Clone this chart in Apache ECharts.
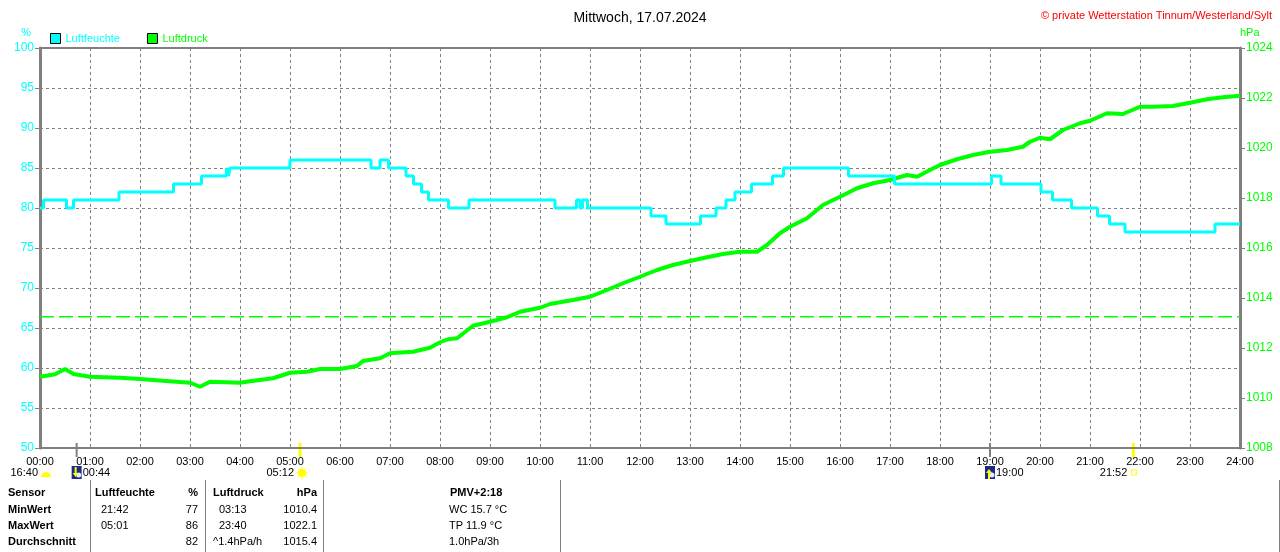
<!DOCTYPE html>
<html>
<head>
<meta charset="utf-8">
<script src="https://cdn.jsdelivr.net/npm/echarts@6/dist/echarts.min.js"></script>
<style>
	html, body { margin: 0; padding: 0; background: #fff; }
	#chart { width: 1280px; height: 552px; }
</style>
</head>
<body>
<div id="chart"></div>
<script>
// tick labels of the time axis (hours of the day)
const hourLabels = [];
for (let h = 0; h <= 24; h++) hourLabels.push((h < 10 ? '0' : '') + h + ':00');

// humidity change points [hour, %] (value holds until the next point)
const humidity = [
	[0, 80], [0.07, 81], [0.53, 80], [0.67, 81], [1.58, 82], [2.67, 83], [3.23, 84],
	[3.73, 85], [3.77, 84], [3.8, 85], [5.0, 86], [6.62, 85], [6.8, 86], [6.97, 85],
	[7.32, 84], [7.47, 83], [7.63, 82], [7.77, 81], [8.17, 80], [8.58, 81], [10.3, 80],
	[10.73, 81], [10.8, 80], [10.85, 81], [10.95, 80], [12.22, 79], [12.52, 78],
	[13.21, 79], [13.52, 80], [13.72, 81], [13.9, 82], [14.23, 83], [14.65, 84],
	[14.87, 85], [16.17, 84], [17.09, 83], [19.03, 84], [19.22, 83], [20.02, 82],
	[20.25, 81], [20.63, 80], [21.15, 79], [21.39, 78], [21.7, 77], [23.5, 78], [24, 78],
];

// air pressure [hour, hPa]
const pressure = [
	[0, 1010.85], [0.3, 1010.95], [0.5, 1011.16], [0.67, 1010.96], [1.0, 1010.85],
	[1.6, 1010.81], [2.0, 1010.76], [2.46, 1010.69], [3.0, 1010.61], [3.2, 1010.45],
	[3.4, 1010.65], [4.0, 1010.61], [4.2, 1010.67], [4.66, 1010.79], [5.0, 1011.01],
	[5.34, 1011.05], [5.6, 1011.16], [6.0, 1011.16], [6.34, 1011.28], [6.46, 1011.48],
	[6.8, 1011.59], [7.0, 1011.79], [7.46, 1011.85], [7.8, 1012.01], [8.0, 1012.23],
	[8.16, 1012.35], [8.34, 1012.39], [8.66, 1012.89], [9.0, 1013.05], [9.34, 1013.23],
	[9.6, 1013.45], [10.0, 1013.61], [10.2, 1013.76], [10.66, 1013.92], [11.0, 1014.05],
	[11.34, 1014.32], [11.66, 1014.59], [12.0, 1014.85], [12.34, 1015.12], [12.66, 1015.32],
	[13.0, 1015.48], [13.34, 1015.63], [13.66, 1015.76], [14.0, 1015.85], [14.34, 1015.85],
	[14.54, 1016.12], [14.8, 1016.59], [15.0, 1016.85], [15.34, 1017.19], [15.66, 1017.72],
	[16.0, 1018.05], [16.34, 1018.39], [16.66, 1018.59], [17.0, 1018.72], [17.34, 1018.92],
	[17.54, 1018.85], [17.8, 1019.12], [18.0, 1019.32], [18.34, 1019.55], [18.66, 1019.72],
	[19.0, 1019.85], [19.34, 1019.92], [19.66, 1020.05], [19.8, 1020.25], [20.0, 1020.41],
	[20.2, 1020.35], [20.46, 1020.72], [20.8, 1020.99], [21.0, 1021.09], [21.34, 1021.39],
	[21.66, 1021.36], [22.0, 1021.65], [22.26, 1021.65], [22.66, 1021.68], [23.0, 1021.81],
	[23.34, 1021.95], [23.66, 1022.03], [24.0, 1022.09],
];

// standard pressure reference line
const stdPressure = [[0, 1013.25], [24, 1013.25]];

// sun / moon events below the time axis
const astroTimes = [0.733, 5.2, 19.0, 21.867];
const astroLabels = ['00:44', '05:12', '19:00', '21:52'];
const astroKinds = ['moonset', 'sunrise', 'moonrise', 'sunset'];
const dayLength = '16:40';

// statistics table
const tableHeader = ['Sensor', 'Luftfeuchte', '%', 'Luftdruck', 'hPa', 'PMV+2:18'];
const rowNames = ['MinWert', 'MaxWert', 'Durchschnitt'];
const humTimes = ['21:42', '05:01', ''];
const humValues = ['77', '86', '82'];
const presTimes = ['03:13', '23:40', '^1.4hPa/h'];
const presValues = ['1010.4', '1022.1', '1015.4'];
const extraInfo = ['WC 15.7 °C', 'TP 11.9 °C', '1.0hPa/3h'];

const CYAN = '#00ffff';
const GREEN = '#00ff00';
const GRAY = '#808080';
const FONT = 'Liberation Sans, Arial, sans-serif';

let myChart = echarts.init(document.getElementById('chart'), null, { renderer: 'canvas' });

let option = {
	animation: false,
	textStyle: { fontFamily: FONT },
	title: [
		{
			text: 'Mittwoch, 17.07.2024',
			left: 'center',
			top: 6,
			textStyle: { fontSize: 14, fontWeight: 'normal', color: '#000', fontFamily: FONT },
		},
		{
			text: '© private Wetterstation Tinnum/Westerland/Sylt',
			right: 3,
			top: 5,
			textStyle: { fontSize: 11, fontWeight: 'normal', color: '#ff0000', fontFamily: FONT },
		},
	],
	legend: {
		left: 50,
		top: 33,
		padding: 0,
		icon: 'rect',
		itemWidth: 10,
		itemHeight: 10,
		itemGap: 27,
		itemStyle: { borderColor: '#000', borderWidth: 1 },
		textStyle: { fontSize: 11 },
		data: [
			{ name: 'Luftfeuchte', textStyle: { color: CYAN } },
			{ name: 'Luftdruck', textStyle: { color: GREEN } },
		],
	},
	grid: {
		left: 40,
		right: 40,
		top: 48,
		bottom: 104,
		show: true,
		borderColor: GRAY,
		borderWidth: 2,
	},
	xAxis: {
		type: 'value',
		min: 0,
		max: 24,
		interval: 1,
		axisLine: { show: true, lineStyle: { color: GRAY, width: 2 } },
		axisTick: { show: false },
		axisLabel: {
			color: '#000',
			fontSize: 11,
			margin: 8,
			formatter: (v) => hourLabels[v],
		},
		splitLine: { show: true, lineStyle: { color: GRAY, type: [3, 3], width: 1 } },
	},
	yAxis: [
		{
			type: 'value',
			min: 50,
			max: 100,
			interval: 5,
			position: 'left',
			name: '%',
			nameLocation: 'end',
			nameGap: 10,
			nameTextStyle: { color: CYAN, fontSize: 11, align: 'right', padding: [0, 9, 0, 0] },
			axisLine: { show: true, lineStyle: { color: GRAY, width: 3 } },
			axisTick: { show: true, length: 5, lineStyle: { color: GRAY, width: 1 } },
			axisLabel: { color: CYAN, fontSize: 12, margin: 6 },
			splitLine: { show: true, lineStyle: { color: GRAY, type: [3, 3], width: 1 } },
		},
		{
			type: 'value',
			min: 1008,
			max: 1024,
			interval: 2,
			position: 'right',
			name: 'hPa',
			nameLocation: 'end',
			nameGap: 10,
			nameTextStyle: { color: GREEN, fontSize: 11, align: 'left' },
			axisLine: { show: true, lineStyle: { color: GRAY, width: 3 } },
			axisTick: { show: true, length: 5, lineStyle: { color: GRAY, width: 1 } },
			axisLabel: { color: GREEN, fontSize: 12, margin: 6, formatter: (v) => String(v) },
			splitLine: { show: false },
		},
	],
	series: [
		{
			name: 'Normaldruck',
			type: 'line',
			yAxisIndex: 1,
			data: stdPressure,
			symbol: 'none',
			silent: true,
			lineStyle: { color: GREEN, type: [14, 5], width: 1.3 },
			itemStyle: { color: GREEN },
		},
		{
			name: 'Luftdruck',
			type: 'line',
			yAxisIndex: 1,
			data: pressure,
			symbol: 'none',
			lineStyle: { color: GREEN, width: 4 },
			itemStyle: { color: GREEN },
		},
		{
			name: 'Luftfeuchte',
			type: 'line',
			step: 'end',
			data: humidity,
			symbol: 'none',
			lineStyle: { color: CYAN, width: 3 },
			itemStyle: { color: CYAN },
		},
	],
};

myChart.setOption(option);

// decorations below the chart, placed through the axis scale
const axisY = myChart.convertToPixel({ yAxisIndex: 0 }, 50);
const graphic = [];

const txt = (x, y, text, opts = {}) => {
	graphic.push({
		type: 'text',
		x: x,
		y: y,
		style: {
			text: text,
			fill: opts.color || '#000',
			font: (opts.bold ? 'bold ' : '') + (opts.size || 11) + 'px ' + FONT,
			textAlign: opts.align || 'left',
			textVerticalAlign: 'middle',
		},
	});
};

const x0 = myChart.convertToPixel({ xAxisIndex: 0 }, 0);
// day length with half sun
txt(x0 - 2, axisY + 25, dayLength, { align: 'right' });
graphic.push({
	type: 'sector',
	shape: { cx: x0 + 6, cy: axisY + 29, r: 5, startAngle: Math.PI, endAngle: 2 * Math.PI },
	style: { fill: '#ffff00' },
});

astroTimes.forEach((t, i) => {
	const x = myChart.convertToPixel({ xAxisIndex: 0 }, t);
	const kind = astroKinds[i];
	const isSun = kind.startsWith('sun');
	graphic.push({
		type: 'line',
		shape: { x1: x, y1: axisY - 5, x2: x, y2: axisY + 9 },
		style: { stroke: isSun ? '#ffff00' : GRAY, lineWidth: isSun ? 3 : 2 },
	});
	const cy = axisY + 25;
	if (isSun) {
		txt(x - 6, cy, astroLabels[i], { align: 'right' });
		if (kind === 'sunrise') {
			graphic.push({ type: 'circle', shape: { cx: x + 2, cy: cy, r: 4 }, style: { fill: '#ffff00' } });
			for (let k = 0; k < 8; k++) {
				const a = (k * Math.PI) / 4;
				graphic.push({
					type: 'line',
					shape: { x1: x + 2 + Math.cos(a) * 4, y1: cy + Math.sin(a) * 4, x2: x + 2 + Math.cos(a) * 6, y2: cy + Math.sin(a) * 6 },
					style: { stroke: '#ffff00', lineWidth: 1 },
				});
			}
		} else {
			graphic.push({ type: 'rect', shape: { x: x - 2, y: cy - 3, width: 5, height: 5 }, style: { fill: '#fff', stroke: '#ffff00', lineWidth: 1 } });
		}
	} else {
		graphic.push({ type: 'rect', shape: { x: x - 5, y: cy - 7, width: 10, height: 13 }, style: { fill: '#1a2a8c' } });
		graphic.push({ type: 'circle', shape: { cx: x + 2, cy: cy + 2, r: 2.5 }, style: { fill: '#e8e8ff' } });
		const up = kind === 'moonrise';
		graphic.push({
			type: 'polygon',
			shape: {
				points: up
					? [[x - 1, cy - 4], [x + 2, cy], [x, cy], [x, cy + 6], [x - 2, cy + 6], [x - 2, cy], [x - 4, cy]]
					: [[x - 1, cy + 4], [x + 2, cy], [x, cy], [x, cy - 6], [x - 2, cy - 6], [x - 2, cy], [x - 4, cy]],
			},
			style: { fill: '#ffff00' },
		});
		txt(x + 6, cy, astroLabels[i]);
	}
});

// statistics table
const rowY = [493, 510, 526, 542];
[90, 205, 323, 560, 1279].forEach((x) => {
	graphic.push({
		type: 'line',
		shape: { x1: x + 0.5, y1: 480, x2: x + 0.5, y2: 552 },
		style: { stroke: GRAY, lineWidth: 1 },
	});
});
txt(8, rowY[0], tableHeader[0], { bold: true });
txt(95, rowY[0], tableHeader[1], { bold: true });
txt(198, rowY[0], tableHeader[2], { bold: true, align: 'right' });
txt(213, rowY[0], tableHeader[3], { bold: true });
txt(317, rowY[0], tableHeader[4], { bold: true, align: 'right' });
txt(450, rowY[0], tableHeader[5], { bold: true });
rowNames.forEach((name, i) => {
	const y = rowY[i + 1];
	txt(8, y, name, { bold: true });
	txt(101, y, humTimes[i]);
	txt(198, y, humValues[i], { align: 'right' });
	txt(presTimes[i].startsWith('^') ? 213 : 219, y, presTimes[i]);
	txt(317, y, presValues[i], { align: 'right' });
	txt(449, y, extraInfo[i]);
});

myChart.setOption({ graphic: graphic });

window.addEventListener('resize', () => {
	myChart.resize();
});
</script>
</body>
</html>
